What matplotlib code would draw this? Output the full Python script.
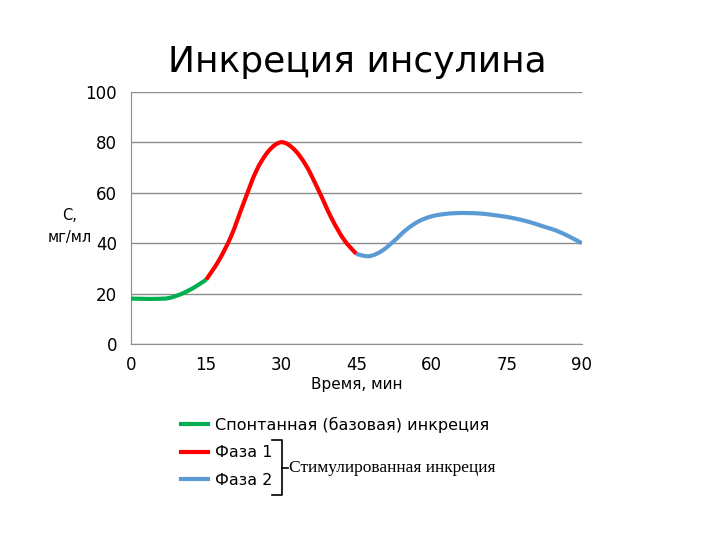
import matplotlib
matplotlib.use('Agg')
import matplotlib.pyplot as plt
from matplotlib.lines import Line2D
from matplotlib.path import Path
from matplotlib.patches import PathPatch

# values
t_base = [0, 2.5, 5, 7.5, 10, 12.5, 15]
c_base = [18, 17.9, 17.9, 18.2, 19.8, 22.3, 25.5]

t_ph1 = [15, 17.5, 20, 22.5, 25, 27.5, 30, 32.5, 35, 37.5, 40, 42.5, 45]
c_ph1 = [25.5, 33, 42.8, 56, 68.6, 76.6, 80, 77.3, 70.6, 60.7, 50, 41.4, 35.7]

t_ph2 = [45, 47.5, 50, 52.5, 55, 57.5, 60, 62.5, 65, 67.5, 70, 72.5, 75, 77.5, 80, 82.5, 85, 87.5, 90]
c_ph2 = [35.7, 34.8, 36.8, 40.8, 45.4, 48.7, 50.6, 51.5, 51.9, 51.9, 51.7, 51.1, 50.4, 49.4, 48.1, 46.5, 44.9, 42.6, 40]

xticks = [0, 15, 30, 45, 60, 75, 90]
yticks = [0, 20, 40, 60, 80, 100]

labels = ['Спонтанная (базовая) инкреция', 'Фаза 1', 'Фаза 2']
colors = ['#00B050', '#FF0000', '#5B9BD5']


def smooth_line(ax, xs, ys, color):
    # smoothed line like in Excel: Catmull-Rom segments drawn as cubic Bezier curves
    pts = list(zip(xs, ys))
    verts = [pts[0]]
    codes = [Path.MOVETO]
    n = len(pts)
    for i in range(n - 1):
        p0 = pts[i - 1] if i > 0 else pts[i]
        p1 = pts[i]
        p2 = pts[i + 1]
        p3 = pts[i + 2] if i + 2 < n else pts[i + 1]
        c1 = (p1[0] + (p2[0] - p0[0]) / 6, p1[1] + (p2[1] - p0[1]) / 6)
        c2 = (p2[0] - (p3[0] - p1[0]) / 6, p2[1] - (p3[1] - p1[1]) / 6)
        verts += [c1, c2, p2]
        codes += [Path.CURVE4] * 3
    ax.add_patch(PathPatch(Path(verts, codes), fill=False, edgecolor=color,
                           lw=3, capstyle='butt', zorder=3))


fig = plt.figure(figsize=(7.2, 5.4), dpi=100)
ax = fig.add_axes([0.182, 0.363, 0.626, 0.467])

smooth_line(ax, t_base, c_base, colors[0])
smooth_line(ax, t_ph1, c_ph1, colors[1])
smooth_line(ax, t_ph2, c_ph2, colors[2])

ax.set_xlim(0, 90)
ax.set_ylim(0, 100)
ax.set_xticks(xticks)
ax.set_yticks(yticks)
ax.tick_params(length=0, labelsize=12)
ax.tick_params(axis='y', pad=10)
ax.tick_params(axis='x', pad=9)
ax.grid(axis='y', color='#8c8c8c', lw=1)
ax.set_axisbelow(True)
for s in ['top', 'right']:
    ax.spines[s].set_visible(False)
for s in ['left', 'bottom']:
    ax.spines[s].set_color('#8c8c8c')

fig.text(0.496, 0.885, 'Инкреция инсулина', fontsize=26, ha='center', va='center')
fig.text(0.127, 0.58, 'С,\nмг/мл', fontsize=10.5, ha='right', va='center',
         multialignment='center', linespacing=1.6)
ax.set_xlabel('Время, мин', fontsize=11, labelpad=2)

handles = [Line2D([], [], color=c, lw=3) for c in colors]
fig.legend(handles, labels, loc='upper left', bbox_to_anchor=(0.242, 0.24),
           frameon=False, fontsize=11.5, handlelength=1.7, handletextpad=0.45,
           labelspacing=0.78, borderaxespad=0)

# bracket for phases 1 and 2
bx = [0.378, 0.392, 0.392, 0.378]
by = [0.185, 0.185, 0.083, 0.083]
fig.add_artist(Line2D(bx, by, color='black', lw=1.2))
fig.add_artist(Line2D([0.392, 0.400], [0.133, 0.133], color='black', lw=1.2))
fig.text(0.401, 0.133, 'Стимулированная инкреция', fontsize=12.5,
         family='Liberation Serif', ha='left', va='center')

fig.savefig('out.png', dpi=100)
